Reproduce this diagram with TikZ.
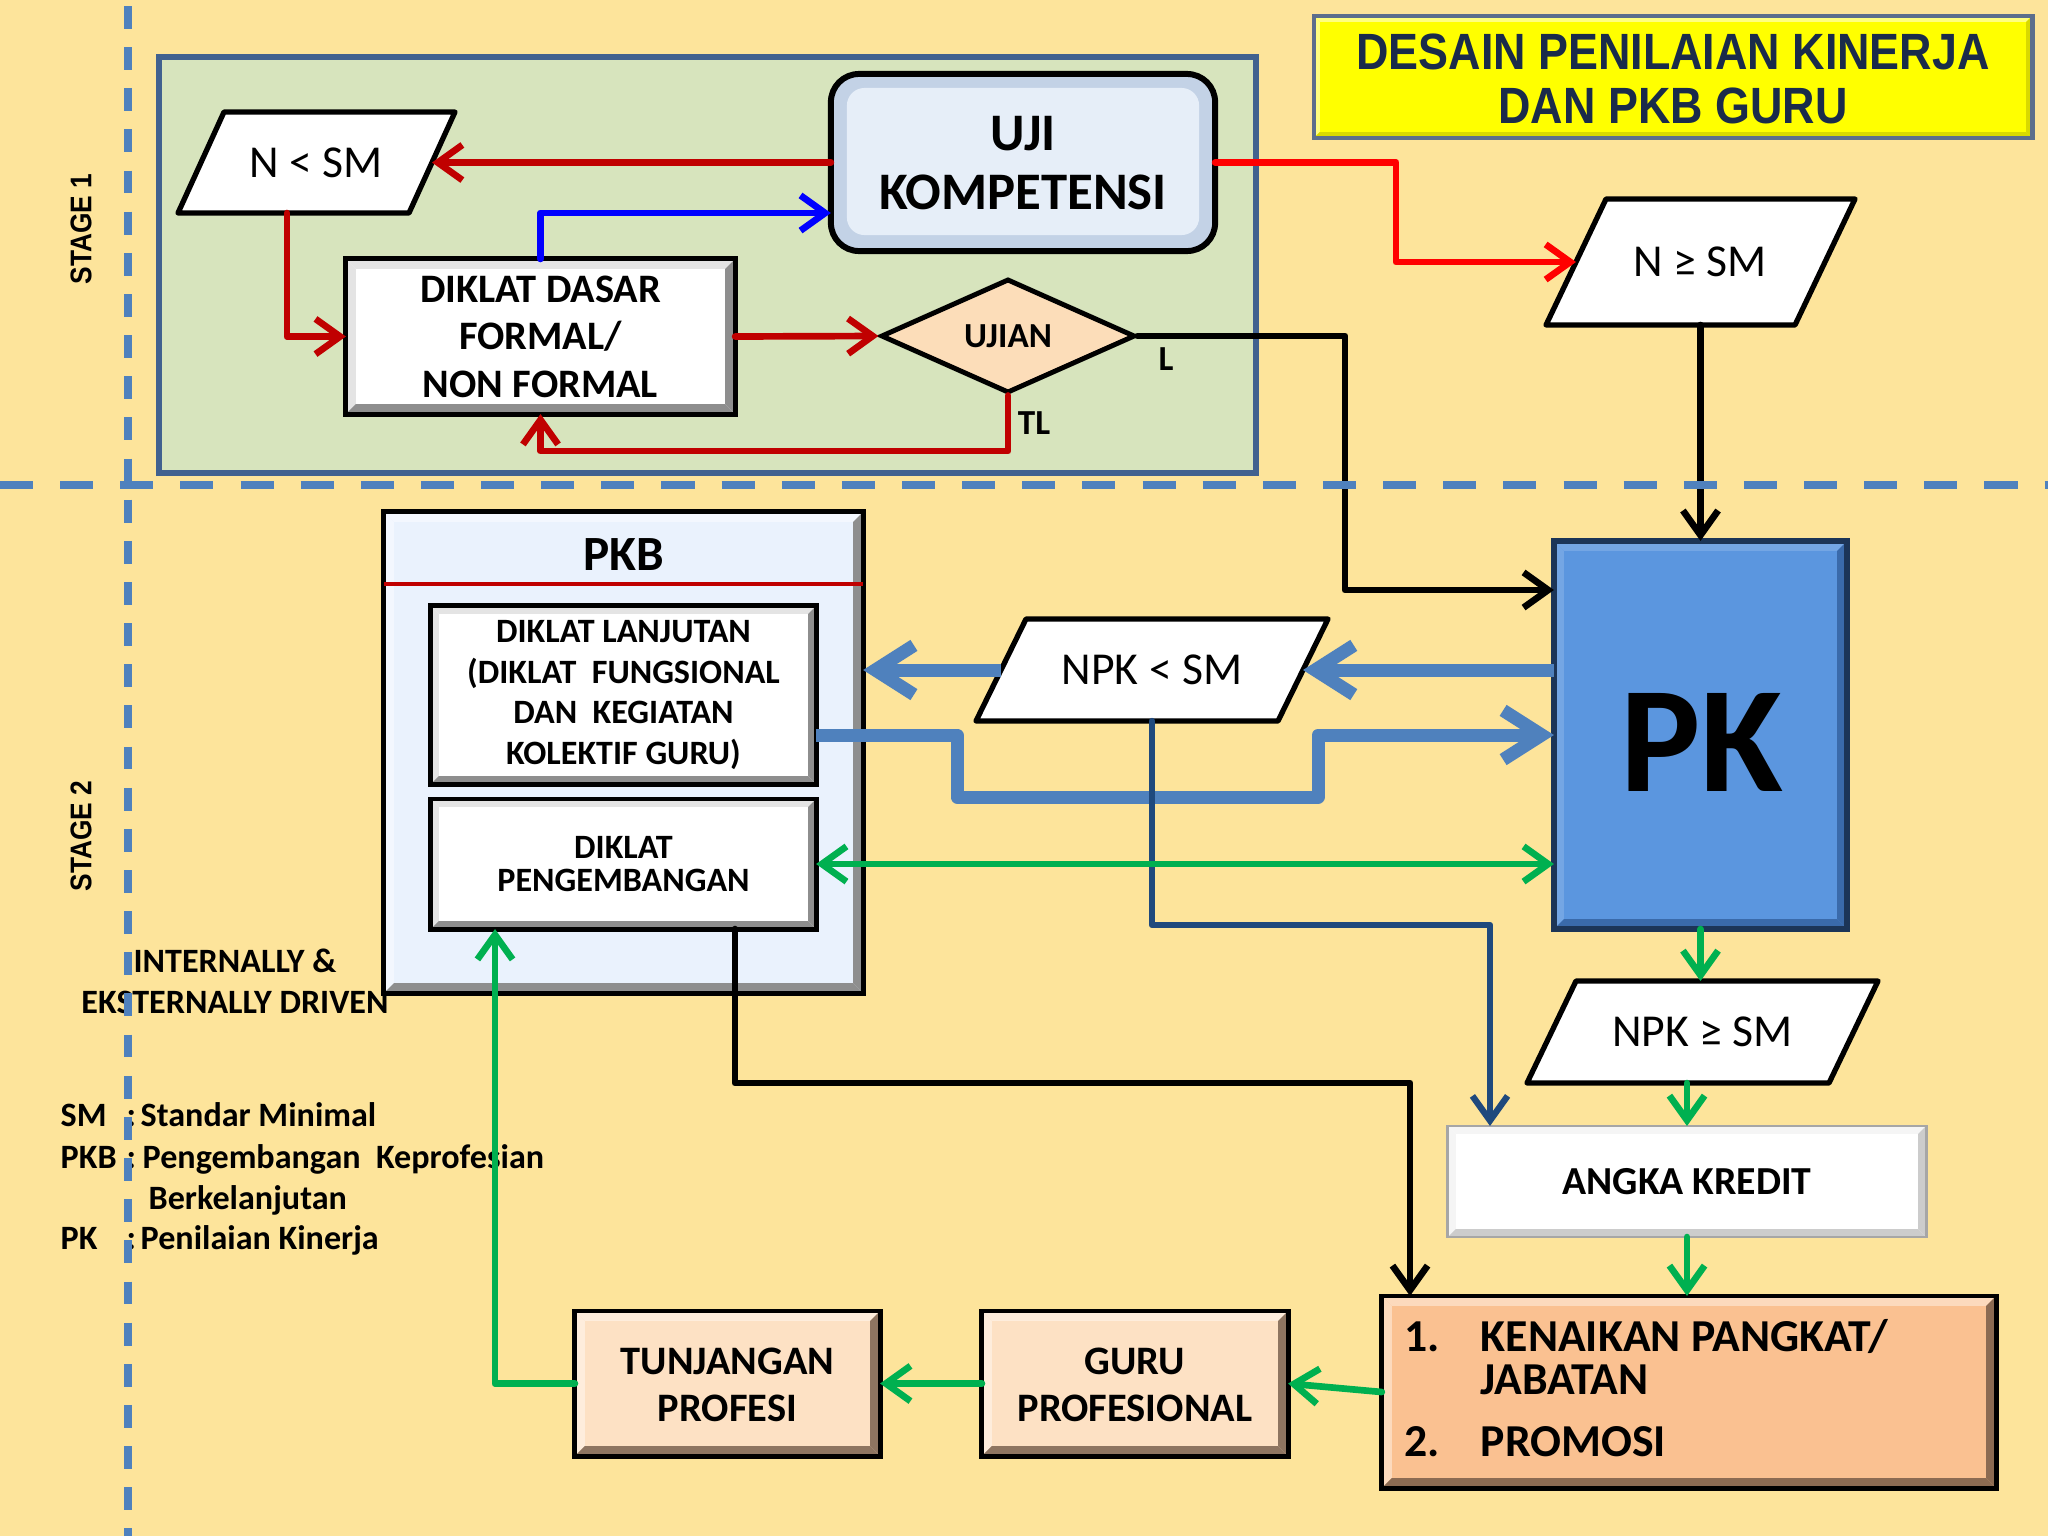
\documentclass[tikz,border=0pt]{standalone}
\usepackage{fontspec}
\setmainfont{Carlito}
\newfontfamily\titlefont[FakeStretch=0.88]{Liberation Sans}
\usetikzlibrary{arrows.meta,shapes.geometric,calc}
\definecolor{bg}{HTML}{FDE49B}
\definecolor{stagegreen}{HTML}{D7E4BD}
\definecolor{stageedge}{HTML}{41618F}
\definecolor{dashblue}{HTML}{4F81BD}
\definecolor{titleyellow}{HTML}{FFFF00}
\definecolor{titleedge}{HTML}{5C6E8C}
\definecolor{titletext}{HTML}{1A2B4A}
\definecolor{darkred}{HTML}{C00000}
\definecolor{brightred}{HTML}{FF0000}
\definecolor{pureblue}{HTML}{0000FF}
\definecolor{steel}{HTML}{4F81BD}
\definecolor{navy}{HTML}{1F497D}
\definecolor{grn}{HTML}{00B050}
\definecolor{pkfill}{HTML}{5B96DF}
\definecolor{pkdark}{HTML}{3A6AAA}
\definecolor{pkedge}{HTML}{1C3557}
\definecolor{ujifill}{HTML}{E6EEF8}
\definecolor{ujiedge}{HTML}{C3D2E6}
\definecolor{bevgray}{HTML}{8E8E8E}
\definecolor{bevlight}{HTML}{E4E4E4}
\definecolor{pkbfill}{HTML}{EAF2FD}
\definecolor{peach}{HTML}{FCDDB9}
\definecolor{kenfill}{HTML}{FAC191}
\definecolor{kendark}{HTML}{8C6B52}
\definecolor{lightpeach}{HTML}{FDE1C4}
\definecolor{peachdark}{HTML}{8E7561}

\newcommand\mybevel[5]{%
 \fill[#3] (#1.north west) -- (#1.north east) -- ([shift={(-#4,#4)}]#1.north east) -- ([shift={(#4,#4)}]#1.north west) -- cycle;
 \fill[#3] (#1.north west) -- (#1.south west) -- ([shift={(#4,-#4)}]#1.south west) -- ([shift={(#4,#4)}]#1.north west) -- cycle;
 \fill[#2] (#1.south west) -- (#1.south east) -- ([shift={(-#4,-#4)}]#1.south east) -- ([shift={(#4,-#4)}]#1.south west) -- cycle;
 \fill[#2] (#1.south east) -- (#1.north east) -- ([shift={(-#4,#4)}]#1.north east) -- ([shift={(-#4,-#4)}]#1.south east) -- cycle;
 \draw[#5] (#1.south west) rectangle (#1.north east);
}
\newcommand\mypara[6]{%
 \coordinate (#1) at (#2,#3);
 \filldraw[fill=white, draw=black, line width=1.5pt, line join=round]
   ($(#1)+(-#4/2+#6,-#5/2)$) -- ($(#1)+(#4/2,-#5/2)$) -- ($(#1)+(#4/2-#6,#5/2)$) -- ($(#1)+(-#4/2,#5/2)$) -- cycle;
 \coordinate (#1-e) at ($(#1)+(#4/2-#6/2,0)$);
 \coordinate (#1-w) at ($(#1)+(-#4/2+#6/2,0)$);
 \coordinate (#1-n) at ($(#1)+(0,-#5/2)$);
 \coordinate (#1-s) at ($(#1)+(0,#5/2)$);
}

\begin{document}
\begin{tikzpicture}[x=0.01cm, y=-0.01cm,
  box/.style={draw=black, line width=1.4pt, inner sep=0pt, outer sep=0pt, align=center, text=black},
  barb/.style={-{Straight Barb[length=7pt,width=10pt]}},
  conn/.style={line width=1.9pt, line join=round, line cap=round, barb},
  redc/.style={conn, draw=darkred},
  brc/.style={conn, draw=brightred},
  bluec/.style={conn, draw=pureblue},
  blkc/.style={conn, draw=black},
  grnc/.style={conn, draw=grn},
  navyc/.style={conn, draw=navy, line width=1.8pt},
  fatc/.style={draw=steel, line width=3.7pt, line join=round, -{Straight Barb[length=11pt,width=14pt]}},
  ptxt/.style={font=\fontsize{13}{15}\selectfont, inner sep=0pt},
  bold/.style={font=\bfseries\fontsize{#1}{#1}\selectfont},
]
\useasboundingbox (0,0) rectangle (2048,1536);
\fill[bg] (0,0) rectangle (2048,1536);
\draw[draw=stageedge, fill=stagegreen, line width=1.5pt] (159,57) rectangle (1256,473);

% title
\node[box, fill=titleyellow, draw=titleedge, line width=1.3pt, minimum width=7.18cm, minimum height=1.22cm] (title) at (1673,77) {};
\mybevel{title}{titleyellow!85!black}{titleyellow!50!white}{6}{draw=titleedge, line width=1.3pt}
\node[text=titletext, align=center, font=\titlefont\bfseries\fontsize{14.5}{15.6}\selectfont] (titletxt) at (1673,79) {DESAIN PENILAIAN KINERJA\\DAN PKB GURU};

% stage labels
\node[rotate=90, font=\titlefont\bfseries\fontsize{8.5}{10}\selectfont] (st1) at (81,229) {STAGE 1};
\node[rotate=90, font=\titlefont\bfseries\fontsize{8.5}{10}\selectfont] (st2) at (81,836) {STAGE 2};

% stage 1 nodes
\node[box, rounded corners=8pt, fill=ujiedge, line width=1.7pt, minimum width=3.84cm, minimum height=1.77cm] (uji) at (1023,162.5) {};
\fill[ujifill, rounded corners=5pt] ([shift={(16,14)}]uji.north west) rectangle ([shift={(-16,-16)}]uji.south east);
\node[align=center, font=\bfseries\fontsize{15}{17}\selectfont] (ujit) at (1023,163) {UJI\\KOMPETENSI};

\mypara{nlt}{316.5}{162.5}{277}{101}{46}
\node[ptxt] (nltt) at (nlt) {N < SM};

\node[box, fill=white, minimum width=3.89cm, minimum height=1.55cm, font=\bfseries\fontsize{11.5}{13.5}\selectfont] (dd) at (540.5,336.5) {DIKLAT DASAR\\FORMAL/\\NON FORMAL};
\mybevel{dd}{bevgray}{bevlight}{10}{line width=1.4pt}

\node[draw=black, line width=1.4pt, diamond, aspect=2.2, fill=peach, minimum width=2.54cm, minimum height=1.14cm, inner sep=0pt, font=\bfseries\fontsize{10}{12}\selectfont] (ujian) at (1008,336) {UJIAN};
\node[bold=10] (lbl) at (1166,359) {L};
\node[bold=10] (ltl) at (1034,423) {TL};

\mypara{ngt}{1700.5}{262}{309}{126}{60}
\node[ptxt] (ngtt) at (ngt) {N ≥ SM};

% stage 2 nodes
\node[draw=pkedge, line width=1.5pt, fill=pkfill, minimum width=2.93cm, minimum height=3.88cm, outer sep=0pt] (pk) at (1700.5,735) {};
\mybevel{pk}{pkdark}{pkfill!85!white}{10}{draw=pkedge, line width=1.5pt}
\node[font=\bfseries\fontsize{43}{50}\selectfont] (pkt) at (1702,742) {PK};

\node[box, fill=pkbfill, minimum width=4.79cm, minimum height=4.81cm] (pkb) at (623.5,752.5) {};
\mybevel{pkb}{bevgray}{pkbfill!60!white}{10}{line width=1.4pt}
\node[bold=14] (pkbt) at (624,555) {PKB};
\draw[darkred, line width=1.2pt] (pkb.west |- 0,584) -- (pkb.east |- 0,584);

\node[box, fill=white, minimum width=3.85cm, minimum height=1.78cm, font=\bfseries\fontsize{9.7}{11.6}\selectfont] (dl) at (623.5,695) {DIKLAT LANJUTAN\\(DIKLAT\ \ FUNGSIONAL\\DAN\ \ KEGIATAN\\KOLEKTIF GURU)};
\mybevel{dl}{bevgray}{bevlight}{8}{line width=1.4pt}

\node[box, fill=white, minimum width=3.85cm, minimum height=1.30cm, font=\bfseries\fontsize{9.7}{9.6}\selectfont] (dp) at (623.5,864) {DIKLAT\\PENGEMBANGAN};
\mybevel{dp}{bevgray}{bevlight}{8}{line width=1.4pt}

\mypara{npklt}{1152}{670}{352}{102}{50}
\node[ptxt] (npkltt) at (npklt) {NPK < SM};

\mypara{npkge}{1702.5}{1032}{351}{102}{49}
\node[ptxt] (npkget) at (npkge) {NPK ≥ SM};

\node[draw=gray!70, line width=0.8pt, fill=white, inner sep=0pt, outer sep=0pt, minimum width=4.78cm, minimum height=1.11cm] (ak) at (1687,1181.5) {};
\mybevel{ak}{gray!40}{gray!8}{8}{draw=gray!70, line width=0.8pt}
\node[bold=11.3] (akt) at (1687,1181.5) {ANGKA KREDIT};

\node[box, fill=kenfill, minimum width=6.14cm, minimum height=1.92cm] (ken) at (1689,1392) {};
\mybevel{ken}{kendark}{kenfill!60!white}{10}{line width=1.4pt}
\begin{scope}[every node/.style={anchor=base west, inner sep=0pt, font=\bfseries\fontsize{13}{15}\selectfont}]
\node (k1) at (1404,1351) {1.};
\node (k1t) at (1480,1351) {KENAIKAN PANGKAT/};
\node (k1b) at (1480,1394) {JABATAN};
\node (k2) at (1404,1456) {2.};
\node (k2t) at (1480,1456) {PROMOSI};
\end{scope}

\node[box, fill=lightpeach, minimum width=3.06cm, minimum height=1.45cm] (guru) at (1135,1383.5) {};
\mybevel{guru}{peachdark}{lightpeach!60!white}{10}{line width=1.4pt}
\node[align=center, font=\bfseries\fontsize{11.5}{13.4}\selectfont] (gurut) at (1135,1385) {GURU\\PROFESIONAL};

\node[box, fill=lightpeach, minimum width=3.05cm, minimum height=1.45cm] (tun) at (727.5,1383.5) {};
\mybevel{tun}{peachdark}{lightpeach!60!white}{10}{line width=1.4pt}
\node[align=center, font=\bfseries\fontsize{11.5}{13.4}\selectfont] (tunt) at (727.5,1385) {TUNJANGAN\\PROFESI};

\node[align=center, font=\bfseries\fontsize{9.7}{11.5}\selectfont] (drv) at (235,981.5) {INTERNALLY \&\\EKSTERNALLY DRIVEN};

% legend
\begin{scope}[every node/.style={anchor=base west, inner sep=0pt, font=\bfseries\fontsize{9.7}{12}\selectfont}]
\node (lg1a) at (60,1126) {SM};
\node (lg1b) at (126,1126) {:};
\node (lg1c) at (140,1126) {Standar Minimal};
\node (lg2a) at (60,1168) {PKB};
\node (lg2b) at (126,1168) {:};
\node (lg2c) at (142,1168) {Pengembangan\ \ Keprofesian};
\node (lg3) at (148,1209) {Berkelanjutan};
\node (lg4a) at (60,1249) {PK};
\node (lg4b) at (126,1249) {:};
\node (lg4c) at (140,1249) {Penilaian Kinerja};
\end{scope}

% connectors stage 1
\draw[redc] (uji.west) -- (nlt-e);
\draw[redc] (287,0 |- nlt-s) -- (287,0 |- dd.west) -- (dd.west);
\draw[bluec] (dd.north) |- (uji.west |- 0,213);
\draw[redc] (dd.east) -- (ujian.west);
\draw[redc] (ujian.south) -- (ujian.south |- 0,451) -| (dd.south);
\draw[blkc] (ujian.east) -- (1345,0 |- ujian.east) -- (1345,590) -- (pk.west |- 0,590);
\draw[brc] (uji.east) -- (1396,0 |- uji.east) |- (ngt-w);
\draw[blkc] (ngt-s) -- (pk.north);

% connectors stage 2
\draw[fatc] (pk.west |- npklt-e) -- (npklt-e);
\draw[fatc] (npklt-w) -- (pkb.east |- npklt-w);
\draw[fatc] (dl.east |- 0,735) -- (957,735) -- (957,797) -- (1318,797) -- (1318,735) -- (pk.west |- 0,735);
\draw[navyc] (npklt-s) -- (npklt-s |- 0,925) -- (1490,925) -- (1490,0 |- ak.north);
\draw[grnc, {Straight Barb[length=7pt,width=10pt]}-{Straight Barb[length=7pt,width=10pt]}] (dp.east) -- (pk.west |- dp.east);
\draw[grnc] (pk.south) -- (pk.south |- npkge-n);
\draw[grnc] (ak.north |- npkge-s) -- (ak.north);
\draw[grnc] (ak.south) -- (ak.south |- ken.north);
\draw[blkc] (735,0 |- dp.south) -- (735,1083) -- (1410,1083) -- (1410,0 |- ken.north);
\draw[grnc] (ken.west) -- (guru.east);
\draw[grnc] (guru.west) -- (tun.east);
\draw[grnc] (tun.west) -- (495,0 |- tun.west) -- (495,0 |- dp.south);

% dashed stage dividers
\draw[dashblue, line width=2.2pt, dash pattern=on 6.5pt off 5.2pt] (128,6) -- (128,1536);
\draw[dashblue, line width=2.2pt, dash pattern=on 9.4pt off 7.7pt] (0,485) -- (2048,485);
\end{tikzpicture}
\end{document}
